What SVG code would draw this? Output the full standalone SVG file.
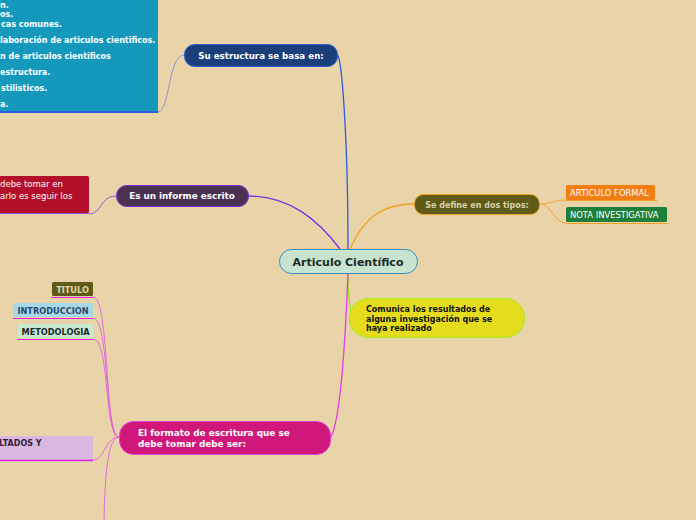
<svg xmlns="http://www.w3.org/2000/svg" width="696" height="520" viewBox="0 0 696 520">
<style>
text{font-family:"DejaVu Sans","Verdana",sans-serif;}
.b{font-weight:bold;}
.c{fill:none;stroke-width:1.3;}
.thin{fill:none;stroke-width:0.9;}
</style>
<rect width="696" height="520" fill="#E9D4A9"/>
<g id="connectors">
<path class="c" d="M348,249 C348,150 343,70 338,55" stroke="#2F5BE0"/>
<path class="c" d="M340,249 C318,220 290,196 248,196" stroke="#7B2FE0"/>
<path class="c" d="M350,249 C365,215 385,204 414,204" stroke="#F0A020"/>
<path class="c" d="M348,273 C348,295 350,310 352,318" stroke="#9AE020"/>
<path class="c" d="M348,273 C345,350 340,420 331,437" stroke="#E040E0"/>
<path class="thin" d="M184,55 C168,55 170,112 158,112" stroke="#7F8FD0"/>
<path class="thin" d="M116,196 C100,196 102,214 89,214" stroke="#8A50E0"/>
<path class="thin" d="M539,204 C552,204 554,200 566,200" stroke="#F0A020"/>
<path class="thin" d="M539,204 C552,204 554,223 566,223" stroke="#F0A020"/>
<path class="thin" d="M119,437 C104,437 110,297 93,297" stroke="#E060E0"/>
<path class="thin" d="M119,437 C104,437 110,318 93,318" stroke="#E060E0"/>
<path class="thin" d="M119,437 C104,437 110,339 93,339" stroke="#E060E0"/>
<path class="thin" d="M119,437 C105,437 105,460 93,460" stroke="#E060E0"/>
<path class="thin" d="M119,437 C107,437 105,480 104,520" stroke="#E060E0"/>
</g>
<g id="center">
<rect x="279.5" y="249.5" width="138" height="24" rx="12" fill="#C7E5CE" stroke="#3C8DBF" stroke-width="1"/>
<text x="348" y="265.5" text-anchor="middle" class="b" font-size="11" fill="#1E2A2A">Articulo Científico</text>
</g>
<g id="estructura">
<rect x="184.5" y="44.5" width="153" height="22" rx="10" fill="#1B3F7A" stroke="#3060D0"/>
<text x="261" y="58.5" text-anchor="middle" class="b" font-size="8.7" fill="#FFFFFF">Su estructura se basa en:</text>
</g>
<g id="estructura-lista">
<rect x="-2" y="-2" width="160" height="114" fill="#1499BD"/>
<line x1="0" y1="112" x2="158" y2="112" stroke="#2F5BE0" stroke-width="2"/>
<g class="b" font-size="8" fill="#FFFFFF">
<text x="0" y="7.5">n.</text>
<text x="0" y="17">os.</text>
<text x="1" y="26.5">cas comunes.</text>
<text x="0" y="42.5">laboración de articulos cientificos.</text>
<text x="0" y="58.5">n de articulos cientificos</text>
<text x="0" y="74.5">estructura.</text>
<text x="1" y="90.5">stilisticos.</text>
<text x="0" y="106.5">a.</text>
</g>
</g>
<g id="informe">
<rect x="116.5" y="185.5" width="132" height="21" rx="10" fill="#4A3352" stroke="#7B2FE0"/>
<text x="182" y="199" text-anchor="middle" class="b" font-size="8.8" fill="#FFFFFF">Es un informe escrito</text>
</g>
<g id="informe-nota">
<rect x="-2" y="176" width="91" height="37" rx="1.5" fill="#B30E2A"/>
<line x1="0" y1="213.5" x2="89" y2="213.5" stroke="#8A50E0" stroke-width="1.2"/>
<text x="0" y="187" font-size="8.5" fill="#FFFFFF">debe tomar en</text>
<text x="0" y="199" font-size="8.5" fill="#FFFFFF">arlo es seguir los</text>
</g>
<g id="tipos">
<rect x="414.5" y="194.5" width="125" height="20" rx="9" fill="#5E5A18" stroke="#F0A020"/>
<text x="477" y="207.5" text-anchor="middle" class="b" font-size="8" fill="#D8D0A8">Se define en dos tipos:</text>
</g>
<g id="formal">
<rect x="566" y="185" width="89" height="15" rx="1.5" fill="#F07E12"/>
<line x1="566" y1="200.5" x2="657" y2="200.5" stroke="#F0A020"/>
<text x="570" y="196" font-size="8.4" fill="#FFFFFF">ARTICULO FORMAL</text>
</g>
<g id="nota">
<rect x="566" y="207" width="101" height="15" rx="1.5" fill="#1E8038"/>
<line x1="566" y1="223.5" x2="668" y2="223.5" stroke="#F0A020"/>
<text x="570" y="218" font-size="8.4" fill="#FFFFFF">NOTA INVESTIGATIVA</text>
</g>
<g id="comunica">
<rect x="349.5" y="298.5" width="175" height="39" rx="19" fill="#E6DC1E" stroke="#A0F020"/>
<g class="b" font-size="8" fill="#111111">
<text x="366" y="312">Comunica los resultados de</text>
<text x="366" y="322">alguna investigación que se</text>
<text x="366" y="331">haya realizado</text>
</g>
</g>
<g id="formato">
<rect x="119.5" y="421.5" width="211" height="33" rx="14" fill="#D0187A" stroke="#E040E0"/>
<g class="b" font-size="8.9" fill="#FFFFFF">
<text x="138" y="436">El formato de escritura que se</text>
<text x="138" y="447">debe tomar debe ser:</text>
</g>
</g>
<g id="titulo">
<rect x="52" y="282" width="41" height="14" rx="1.5" fill="#5E5A18"/>
<line x1="51" y1="297.5" x2="93" y2="297.5" stroke="#E020E0"/>
<text x="72.5" y="292.5" text-anchor="middle" class="b" font-size="8.2" fill="#E0D8A8">TITULO</text>
</g>
<g id="introduccion">
<rect x="13" y="303" width="80" height="14" rx="1.5" fill="#A8D8E8"/>
<line x1="13" y1="318.5" x2="93" y2="318.5" stroke="#E020E0"/>
<text x="53" y="313.5" text-anchor="middle" class="b" font-size="8.2" fill="#2A4A6A">INTRODUCCION</text>
</g>
<g id="metodologia">
<rect x="18" y="324" width="75" height="14" rx="1.5" fill="#C8E8D0"/>
<line x1="17" y1="339.5" x2="93" y2="339.5" stroke="#E020E0"/>
<text x="55.5" y="334.5" text-anchor="middle" class="b" font-size="8.2" fill="#1A2A2A">METODOLOGIA</text>
</g>
<g id="resultados">
<rect x="-2" y="436" width="95" height="24" rx="1.5" fill="#D8B8E0"/>
<line x1="0" y1="460.5" x2="93" y2="460.5" stroke="#E020E0" stroke-width="1.5"/>
<text x="-1" y="446" class="b" font-size="8" fill="#3A1A3A">LTADOS Y</text>
</g>
</svg>
